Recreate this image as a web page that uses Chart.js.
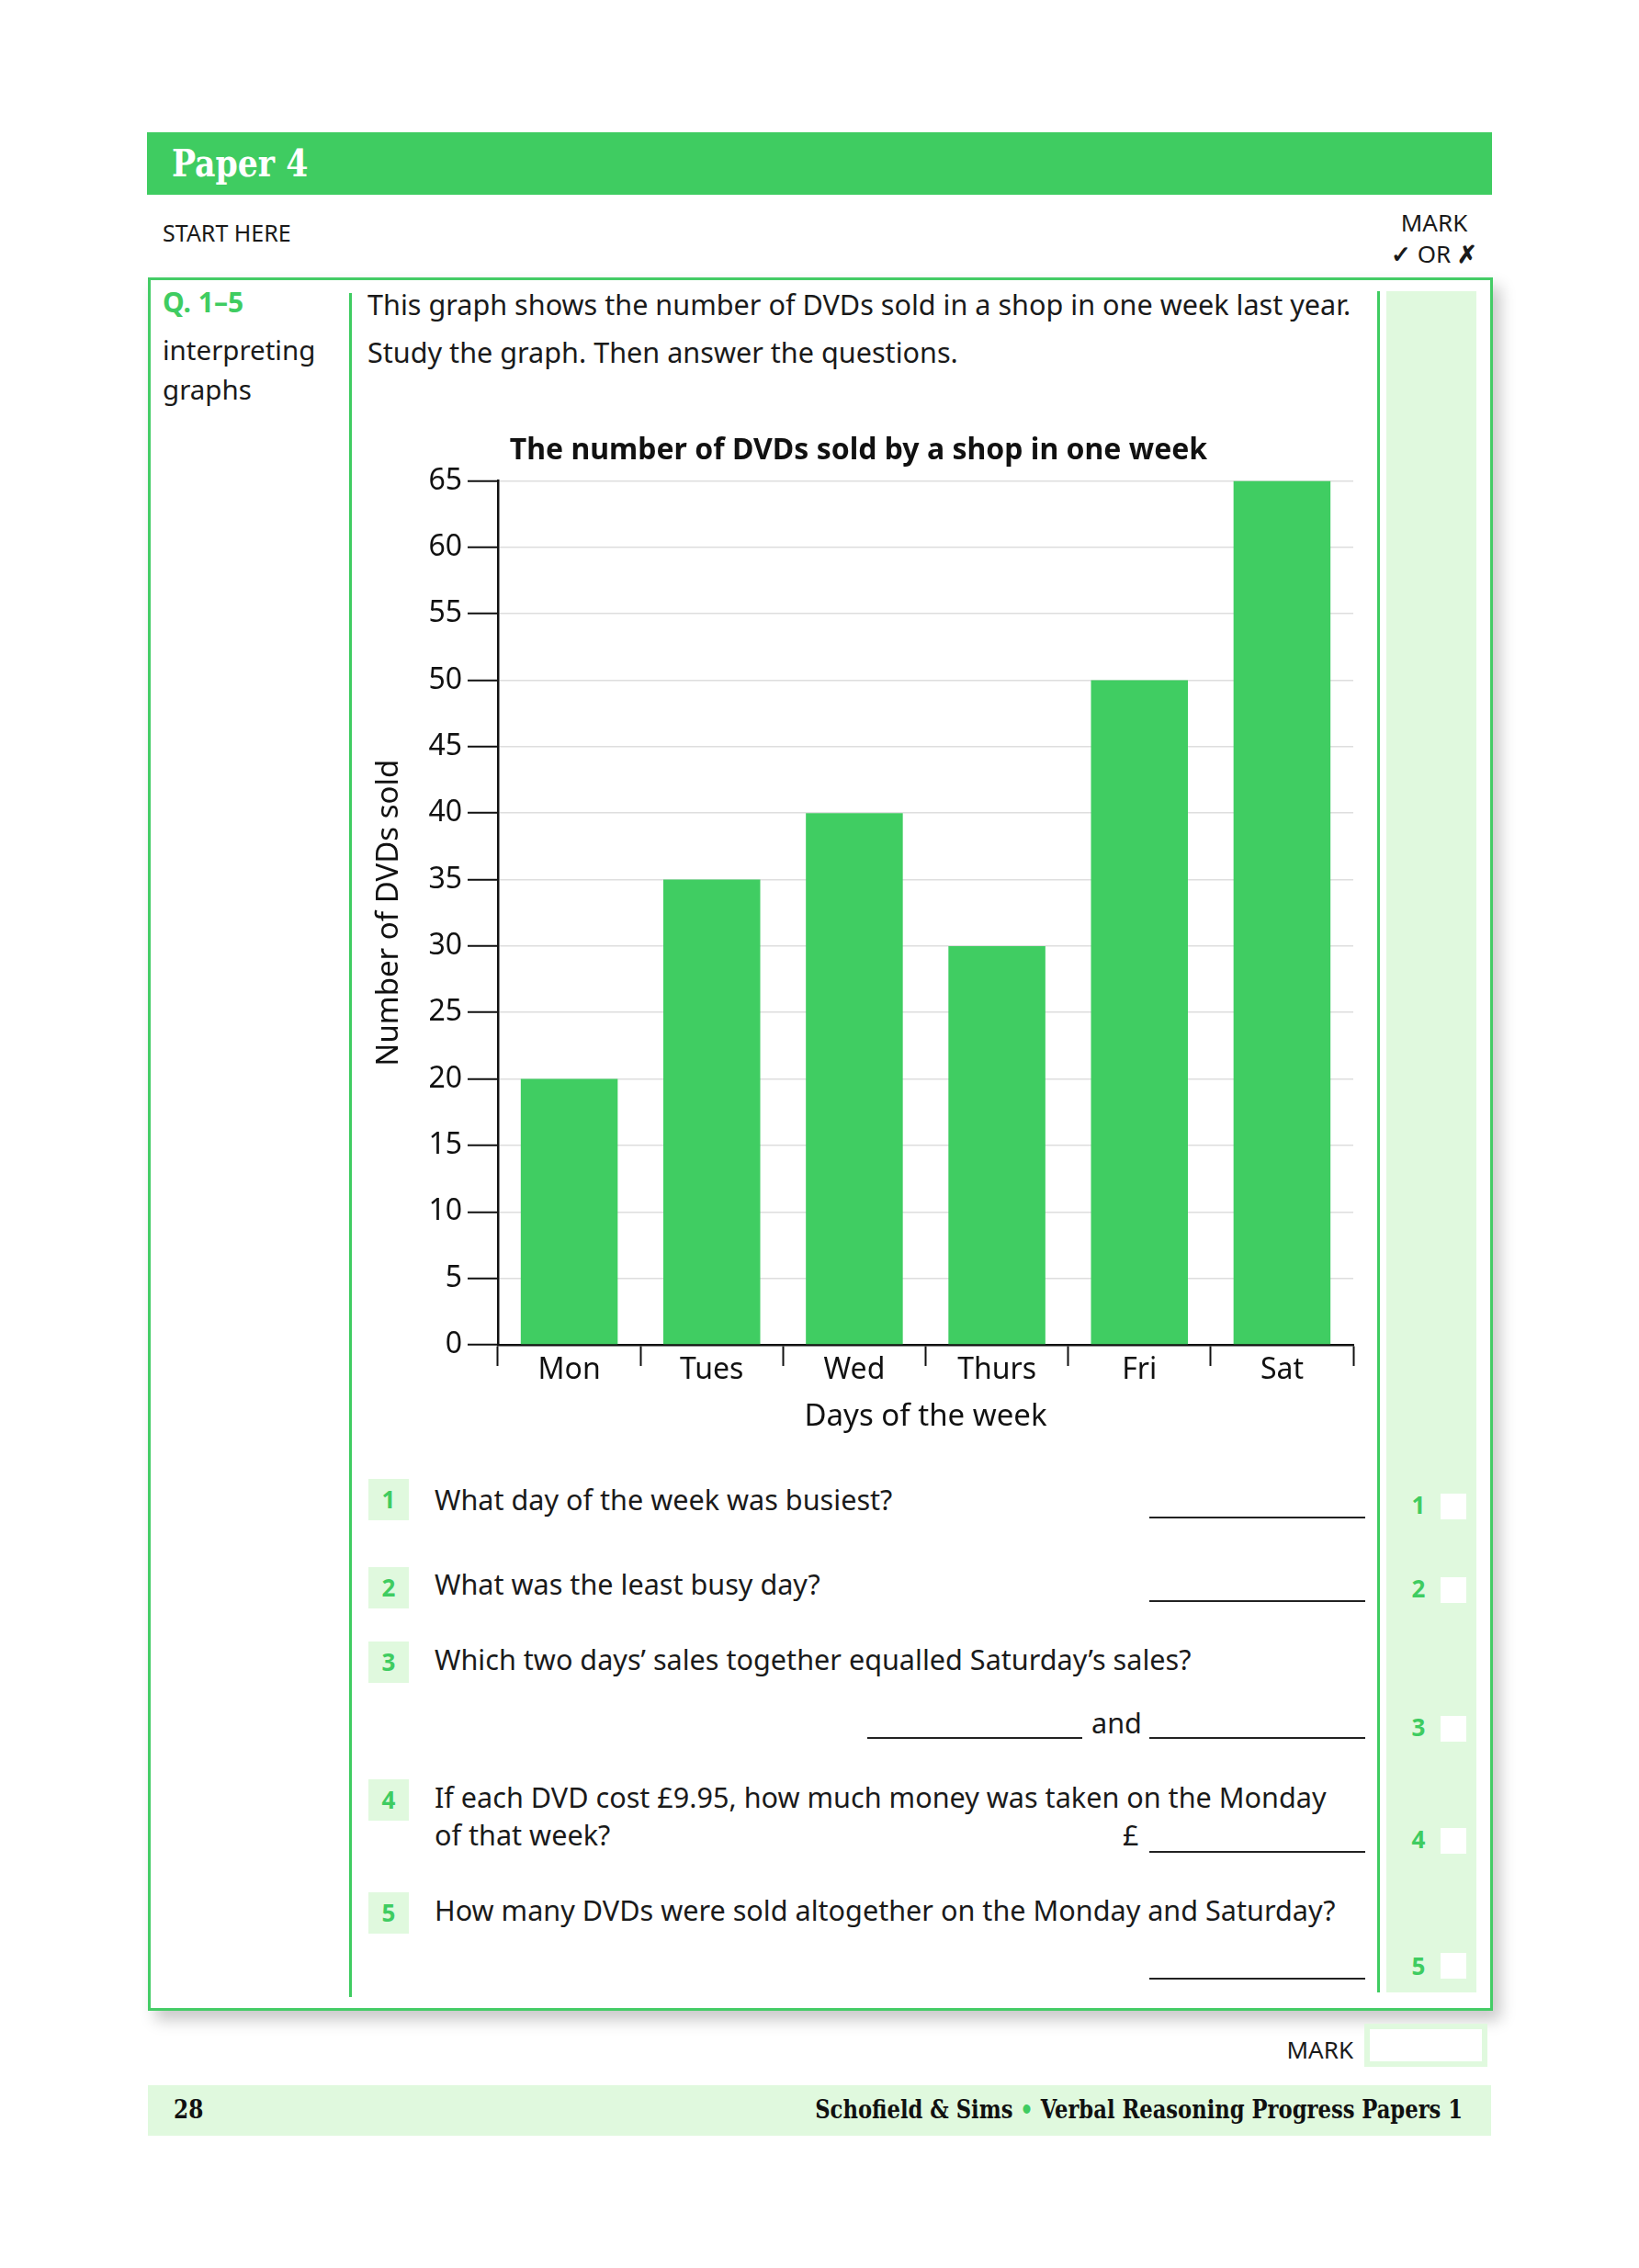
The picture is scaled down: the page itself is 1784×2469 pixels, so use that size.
<!DOCTYPE html>
<html>
<head>
<meta charset="utf-8">
<script src="https://cdn.jsdelivr.net/npm/chart.js@4.4.1/dist/chart.umd.min.js"></script>
<style>
  html, body { margin:0; padding:0; background:#fff; }
  body { width:1784px; height:2469px; position:relative; overflow:hidden; font-family:"Noto Sans","Open Sans",sans-serif; color:#1a1a1a; }
  .abs { position:absolute; white-space:nowrap; }
  .serif { font-family:"DejaVu Serif Condensed","DejaVu Serif",serif; font-weight:bold; font-stretch:condensed; }
  .t { font-size:30.6px; line-height:40px; }
  .qnum { position:absolute; left:401px; width:44px; height:45px; background:#e0f9de; color:#3fcc61; font-weight:bold; font-size:26px; line-height:45px; text-align:center; }
  .ans { position:absolute; height:0; border-top:2px solid #222; }
  .mnum { position:absolute; left:1530px; width:28px; color:#3fcc61; font-weight:bold; font-size:26px; line-height:34px; text-align:center; }
  .mbox { position:absolute; left:1568px; width:28px; height:28px; background:#fff; }
</style>
</head>
<body>
<!-- header -->
<div class="abs" style="left:160px;top:144px;width:1464px;height:68px;background:#3fcc61;"></div>
<div class="abs serif" style="left:187px;top:150px;font-size:41px;line-height:56px;color:#fff;transform:scaleX(0.94);transform-origin:left center;">Paper 4</div>
<div class="abs" style="left:177px;top:237px;font-size:25px;line-height:32px;">START HERE</div>
<div class="abs" style="left:1511px;top:225px;width:100px;text-align:center;font-size:26px;line-height:34px;">MARK</div>
<div class="abs" style="left:1511px;top:259px;width:100px;text-align:center;font-size:26px;line-height:34px;"><b>✓</b> OR <b>✗</b></div>

<!-- main box -->
<div class="abs" style="left:161px;top:302px;width:1458px;height:1881px;border:3px solid #44cc66;box-shadow:8px 10px 16px rgba(0,0,0,0.22);background:#fff;"></div>
<div class="abs" style="left:380px;top:319px;width:3px;height:1855px;background:#3fcc61;"></div>
<div class="abs" style="left:1499px;top:317px;width:3px;height:1852px;background:#3fcc61;"></div>
<div class="abs" style="left:1509px;top:317px;width:98px;height:1852px;background:#e0f9de;"></div>

<div class="abs" style="left:177px;top:311px;font-size:30px;line-height:36px;color:#3fcc61;font-weight:bold;">Q. 1–5</div>
<div class="abs" style="left:177px;top:361px;font-size:29.5px;line-height:40px;">interpreting</div>
<div class="abs" style="left:177px;top:404px;font-size:29.5px;line-height:40px;">graphs</div>

<div class="abs t" style="left:400px;top:311px;">This graph shows the number of DVDs sold in a shop in one week last year.</div>
<div class="abs t" style="left:400px;top:363px;">Study the graph. Then answer the questions.</div>

<canvas id="c" class="abs" style="left:380px;top:455px;"></canvas>

<!-- questions -->
<div class="qnum" style="top:1610px;">1</div>
<div class="abs t" style="left:473px;top:1612px;">What day of the week was busiest?</div>
<div class="ans" style="left:1251px;top:1651px;width:235px;"></div>

<div class="qnum" style="top:1706px;">2</div>
<div class="abs t" style="left:473px;top:1704px;">What was the least busy day?</div>
<div class="ans" style="left:1251px;top:1742px;width:235px;"></div>

<div class="qnum" style="top:1787px;">3</div>
<div class="abs t" style="left:473px;top:1786px;">Which two days’ sales together equalled Saturday’s sales?</div>
<div class="ans" style="left:944px;top:1891px;width:234px;"></div>
<div class="abs t" style="left:1188px;top:1855px;">and</div>
<div class="ans" style="left:1251px;top:1891px;width:235px;"></div>

<div class="qnum" style="top:1937px;">4</div>
<div class="abs t" style="left:473px;top:1936px;">If each DVD cost £9.95, how much money was taken on the Monday</div>
<div class="abs t" style="left:473px;top:1977px;">of that week?</div>
<div class="abs t" style="left:1222px;top:1977px;">£</div>
<div class="ans" style="left:1251px;top:2015px;width:235px;"></div>

<div class="qnum" style="top:2060px;">5</div>
<div class="abs t" style="left:473px;top:2059px;">How many DVDs were sold altogether on the Monday and Saturday?</div>
<div class="ans" style="left:1251px;top:2153px;width:235px;"></div>

<!-- mark column -->
<div class="mnum" style="top:1621px;">1</div><div class="mbox" style="top:1626px;"></div>
<div class="mnum" style="top:1712px;">2</div><div class="mbox" style="top:1717px;"></div>
<div class="mnum" style="top:1863px;">3</div><div class="mbox" style="top:1868px;"></div>
<div class="mnum" style="top:1985px;">4</div><div class="mbox" style="top:1990px;"></div>
<div class="mnum" style="top:2123px;">5</div><div class="mbox" style="top:2126px;"></div>

<!-- bottom mark -->
<div class="abs" style="left:1300px;top:2214px;width:173px;text-align:right;font-size:26px;line-height:34px;">MARK</div>
<div class="abs" style="left:1485px;top:2203px;width:122px;height:35px;border:6px solid #e0f9de;background:#fff;"></div>

<!-- footer -->
<div class="abs" style="left:161px;top:2270px;width:1462px;height:55px;background:#e0f9de;"></div>
<div class="abs serif" style="left:189px;top:2279px;font-size:28px;line-height:36px;color:#111;transform:scaleX(0.92);transform-origin:left center;">28</div>
<div class="abs serif" style="left:700px;width:892px;text-align:right;top:2279px;font-size:28px;line-height:36px;color:#111;transform:scaleX(0.9);transform-origin:right center;">Schofield &amp; Sims <span style="color:#3fcc61;">•</span> Verbal Reasoning Progress Papers 1</div>

<script>
const days = ["Mon", "Tues", "Wed", "Thurs", "Fri", "Sat"];
const dvdsSold = [20, 35, 40, 30, 50, 65];
const chartTitle = "The number of DVDs sold by a shop in one week";
const xTitle = "Days of the week";
const yTitle = "Number of DVDs sold";

const W = 1126, H = 1120;
const cv = document.getElementById('c');
cv.width = W; cv.height = H;
cv.style.width = W + 'px'; cv.style.height = H + 'px';
const FONT = '"Noto Sans", "Open Sans", sans-serif';

new Chart(cv, {
  type: 'bar',
  data: {
    labels: days,
    datasets: [{
      data: dvdsSold,
      backgroundColor: '#40cd62',
      borderWidth: 0,
      barPercentage: 0.68,
      categoryPercentage: 1.0
    }]
  },
  options: {
    responsive: false,
    devicePixelRatio: 1,
    animation: false,
    layout: { padding: { left: 16, right: 33, top: 0, bottom: 0 } },
    plugins: {
      legend: { display: false },
      tooltip: { enabled: false },
      title: {
        display: true, text: chartTitle, color: '#111',
        font: { family: FONT, size: 32, weight: 'bold', lineHeight: 1.2 },
        padding: { top: 17, bottom: 13 }
      }
    },
    scales: {
      x: {
        offset: true,
        afterFit: (s) => { s.height = 111; },
        grid: { display: true, drawOnChartArea: false, drawTicks: true, tickLength: 23, tickColor: '#111', tickWidth: 2, offset: true },
        border: { display: true, color: '#111', width: 2.5 },
        ticks: { color: '#111', padding: -14, font: { family: FONT, size: 32 } },
        title: { display: true, text: xTitle, color: '#111', font: { family: FONT, size: 33, lineHeight: 1.2 }, padding: { top: 0, bottom: 13 } }
      },
      y: {
        min: 0, max: 65,
        afterFit: (s) => { s.width = 146; },
        ticks: { stepSize: 5, color: '#111', padding: 6, font: { family: FONT, size: 32 } },
        grid: { color: '#dedede', lineWidth: 1.5, drawTicks: true, tickLength: 33, tickColor: '#111', tickWidth: 2 },
        border: { display: true, color: '#111', width: 2.5 },
        title: { display: true, text: yTitle, color: '#111', font: { family: FONT, size: 33, lineHeight: 1.2 }, padding: { top: 8, bottom: 0 } }
      }
    }
  }
});
</script>
</body>
</html>
